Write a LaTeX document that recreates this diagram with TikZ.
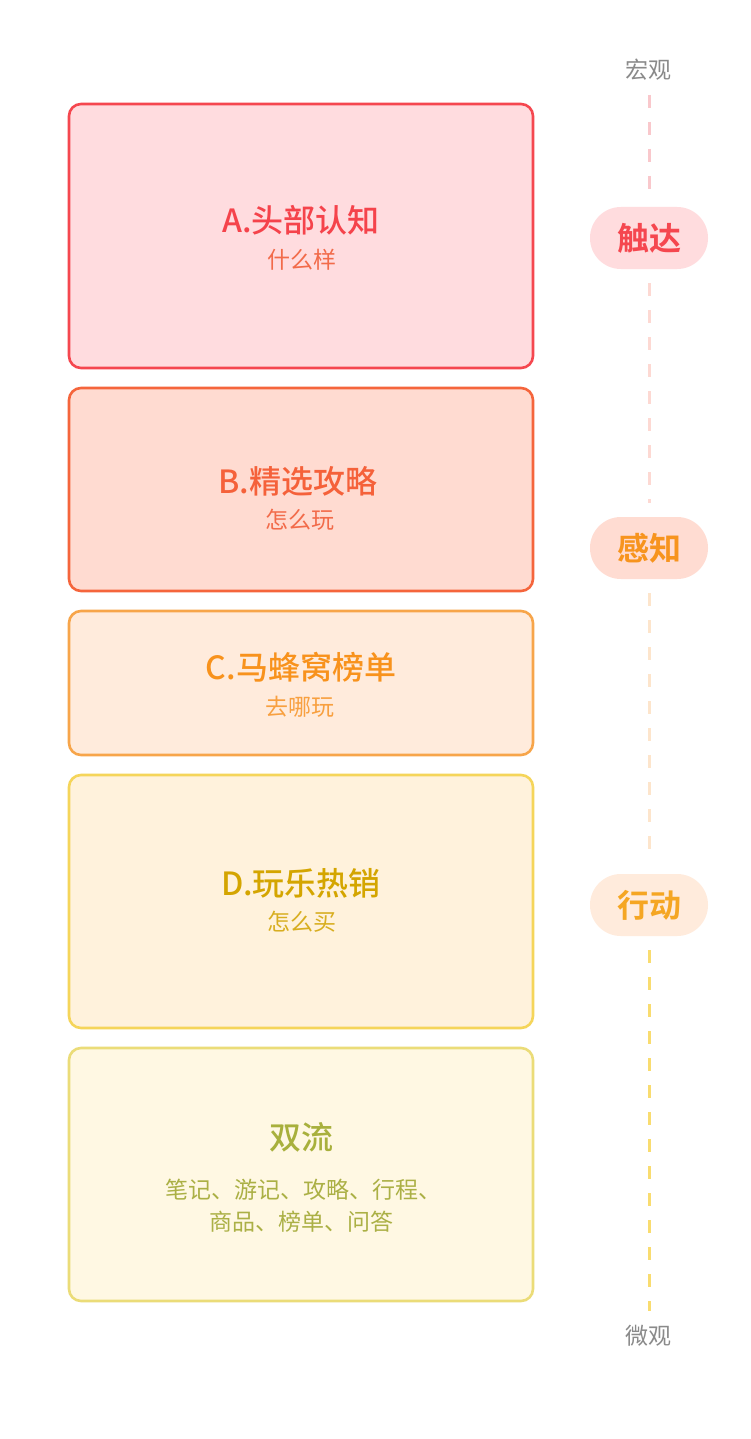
\documentclass[tikz,border=0pt]{standalone}
\usepackage{fontspec}
\setmainfont{Noto Sans CJK SC}[BoldFont={Noto Sans CJK SC Medium}]
\newfontfamily\pillfont{Noto Sans CJK SC Bold}
\begin{document}
\begin{tikzpicture}[x=1pt,y=-1pt,
  card/.style={draw, line width=2.6pt, rounded corners=12pt, minimum width=464pt, inner sep=0pt},
  titletext/.style={font=\fontsize{32}{36}\selectfont\bfseries, inner sep=0pt},
  subtext/.style={font=\fontsize{23}{27}\selectfont, inner sep=0pt},
  pill/.style={rounded corners=30.9pt, minimum width=118pt, minimum height=62pt, inner sep=0pt, font=\pillfont\fontsize{32}{36}\selectfont},
  endlabel/.style={font=\fontsize{23}{27}\selectfont, text=labgray, inner sep=0pt},
  dashline/.style={line width=3pt, dash pattern=on 13pt off 14pt, shorten <=14pt, shorten >=14pt}
]
\definecolor{labgray}{HTML}{8A8A8A}
\definecolor{aborder}{HTML}{F5474F}\definecolor{afill}{HTML}{FFDCDF}
\definecolor{bborder}{HTML}{F5653C}\definecolor{bfill}{HTML}{FFDBD1}
\definecolor{cborder}{HTML}{F7A54A}\definecolor{cfill}{HTML}{FFEBDC}
\definecolor{dborder}{HTML}{F5D55A}\definecolor{dfill}{HTML}{FFF2DC}
\definecolor{eborder}{HTML}{EBDC78}\definecolor{efill}{HTML}{FFF8E3}
\definecolor{atitle}{HTML}{F5434B}\definecolor{asub}{HTML}{F26B4A}
\definecolor{btitle}{HTML}{F5613A}\definecolor{bsub}{HTML}{F26B4A}
\definecolor{ctitle}{HTML}{F8921C}\definecolor{csub}{HTML}{F8A040}
\definecolor{dtitle}{HTML}{D4A500}\definecolor{dsub}{HTML}{D8AE20}
\definecolor{etitle}{HTML}{A8B03C}\definecolor{esub}{HTML}{ABB045}
\definecolor{p1fill}{HTML}{FFDCDE}\definecolor{p1text}{HTML}{F5474F}
\definecolor{p2fill}{HTML}{FFDCD2}\definecolor{p2text}{HTML}{F7941E}
\definecolor{p3fill}{HTML}{FFEBDC}\definecolor{p3text}{HTML}{F5A623}
\definecolor{d1}{HTML}{F9C8CC}\definecolor{d2}{HTML}{FDD9D3}
\definecolor{d3}{HTML}{FDE5CC}\definecolor{d4}{HTML}{F9DC70}
\useasboundingbox[fill=white] (0,0) rectangle (750,1439);

% cards
\node[card, draw=aborder, fill=afill, minimum height=264pt] (A) at (301,236) {};
\node[card, draw=bborder, fill=bfill, minimum height=203pt] (B) at (301,489.5) {};
\node[card, draw=cborder, fill=cfill, minimum height=144pt] (C) at (301,683) {};
\node[card, draw=dborder, fill=dfill, minimum height=253pt] (D) at (301,901.5) {};
\node[card, draw=eborder, fill=efill, minimum height=253pt] (E) at (301,1174.5) {};

% texts
\node[titletext, text=atitle] (At) at (301,220) {A.头部认知};
\node[subtext, text=asub] (As) at (302,260) {什么样};
\node[titletext, text=btitle] (Bt) at (298,481) {B.精选攻略};
\node[subtext, text=bsub] (Bs) at (300,520) {怎么玩};
\node[titletext, text=ctitle] (Ct) at (301,667) {C.马蜂窝榜单};
\node[subtext, text=csub] (Cs) at (300,707) {去哪玩};
\node[titletext, text=dtitle] (Dt) at (301,883) {D.玩乐热销};
\node[subtext, text=dsub] (Ds) at (302,922) {怎么买};
\node[titletext, text=etitle] (Et) at (301,1137) {双流};
\node[subtext, text=esub] (Es1) at (303,1190) {笔记、游记、攻略、行程、};
\node[subtext, text=esub] (Es2) at (301,1222) {商品、榜单、问答};

% axis
\node[endlabel] (top) at (648,70) {宏观};
\node[endlabel] (bot) at (648,1336) {微观};
\node[pill, fill=p1fill, text=p1text] (p1) at (649,238) {触达};
\node[pill, fill=p2fill, text=p2text] (p2) at (649,548) {感知};
\node[pill, fill=p3fill, text=p3text] (p3) at (649,905) {行动};

\draw[dashline, draw=d1] (top.south -| p1.north) -- (p1.north);
\draw[dashline, draw=d2] (p1.south) -- (p2.north);
\draw[dashline, draw=d3] (p2.south) -- (p3.north);
\draw[dashline, draw=d4] (p3.south) -- (bot.north -| p3.south);
\end{tikzpicture}
\end{document}
